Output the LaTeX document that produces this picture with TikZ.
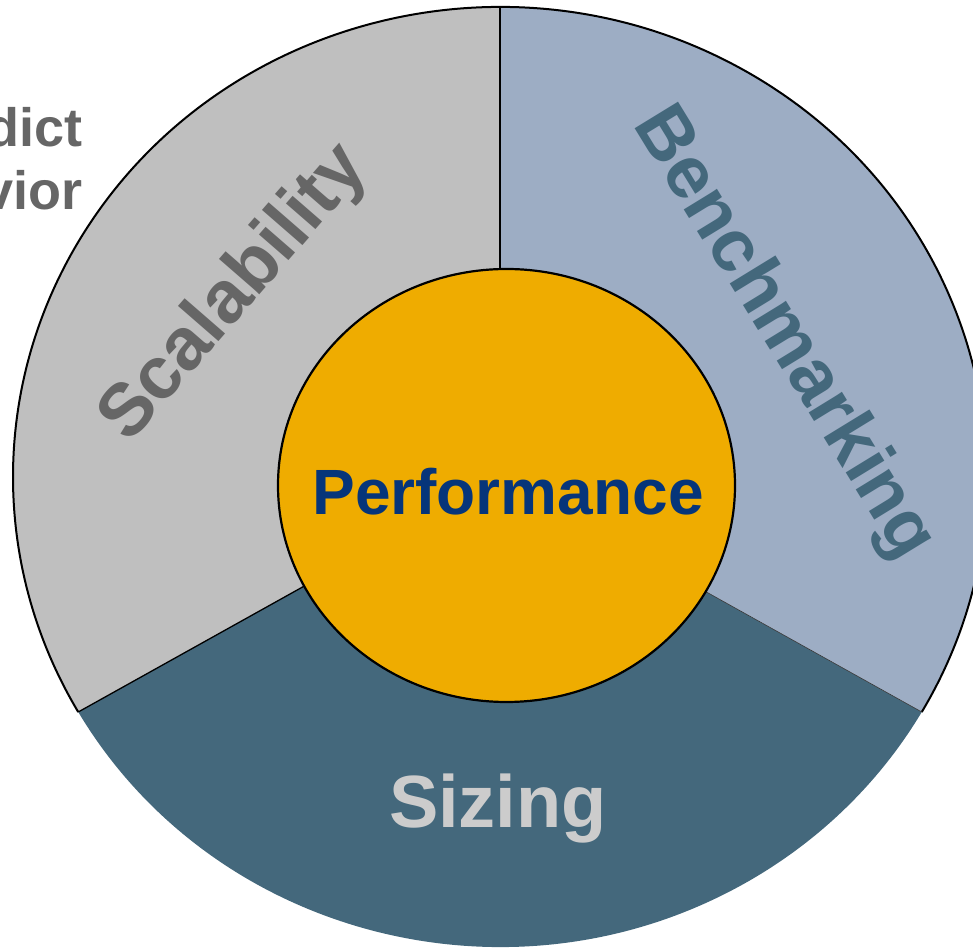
\documentclass[tikz,border=0pt]{standalone}
\usepackage{fontspec}
\setmainfont{Liberation Sans}
\usetikzlibrary{shapes.geometric}
\definecolor{segGray}{HTML}{BFBFBF}
\definecolor{segBlue}{HTML}{9DADC4}
\definecolor{segDark}{HTML}{44687C}
\definecolor{coreGold}{HTML}{EFAC00}
\definecolor{coreNavy}{HTML}{06357A}
\definecolor{txtGray}{HTML}{666666}
\definecolor{txtLight}{HTML}{CCCCCC}
\tikzset{
  ringtext/.style={font=\bfseries\fontsize{74}{86}\selectfont, inner sep=0pt},
  sidetext/.style={font=\bfseries\fontsize{54}{62}\selectfont, text=txtGray, inner sep=0pt, anchor=base east},
  outerarc/.style={x radius=487pt, y radius=470pt},
}
\begin{document}
\begin{tikzpicture}[x=1pt,y=1pt]
\useasboundingbox (0,0) rectangle (973,947);
\clip (0,0) rectangle (973,947);
\coordinate (O) at (500,470);
\coordinate (top) at (500,940);
\coordinate (ll) at (78.25,235);
\coordinate (lr) at (921.75,235);
% sectors
\fill[segDark] (O) -- (ll) arc[start angle=210, end angle=330, outerarc] -- cycle;
\fill[segGray] (O) -- (top) arc[start angle=90, end angle=210, outerarc] -- cycle;
\fill[segBlue] (O) -- (lr) arc[start angle=-30, end angle=90, outerarc] -- cycle;
% borders
\draw[line width=2pt] (lr) arc[start angle=-30, end angle=210, outerarc];
\draw[line width=1.5pt] (O) -- (top);
\draw[line width=1.3pt] (O) -- (ll);
\draw[line width=0.6pt, draw=black!80] (O) -- (lr);
% core
\node[ellipse, draw=black, line width=2.2pt, fill=coreGold, minimum width=457pt, minimum height=433pt, inner sep=0pt] (core) at (506.5,461.5) {};
\node[font=\bfseries\fontsize{64}{74}\selectfont, text=coreNavy, inner sep=0pt, anchor=base] (perf) at (508,432) {Performance};
% ring labels
\node[ringtext, text=txtLight, anchor=base] (sizing) at (498,120) {Sizing};
\node[ringtext, text=txtGray, rotate=49] (scal) at (235,653) {Scalability};
\node[ringtext, text=segDark, rotate=-58.5] (bench) at (783,613) {Benchmarking};
% side text
\node[sidetext] (pred1) at (83,800) {Predict};
\node[sidetext] (pred2) at (83,737) {behavior};
\end{tikzpicture}
\end{document}
